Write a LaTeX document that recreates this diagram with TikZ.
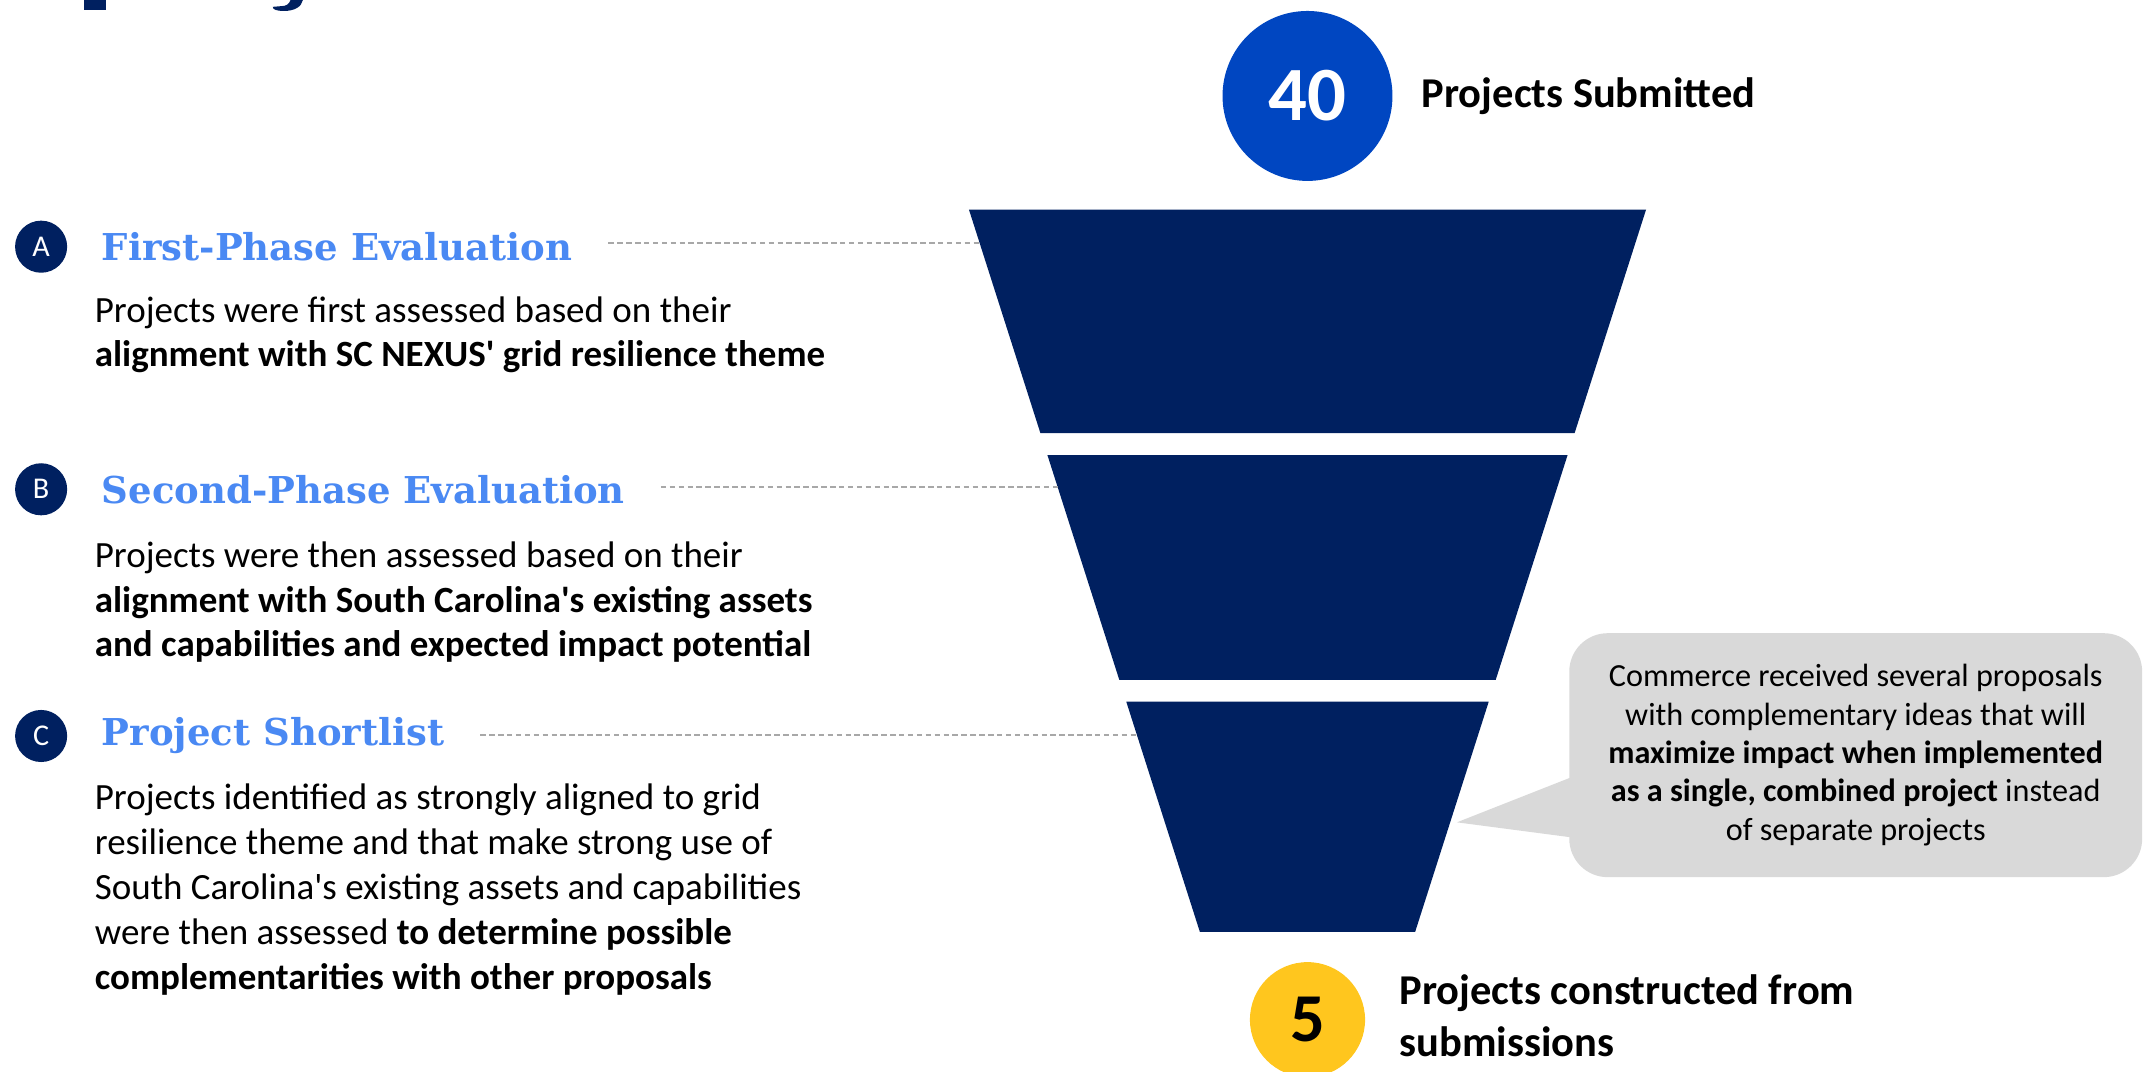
\documentclass[tikz,border=0pt]{standalone}
\usepackage{fontspec}
\setmainfont{Carlito}
\newfontfamily\headfont{DejaVu Serif}
\usetikzlibrary{positioning}
\definecolor{navy}{HTML}{002060}
\definecolor{royal}{HTML}{0046C1}
\definecolor{gold}{HTML}{FFC61E}
\definecolor{headblue}{HTML}{4A89F3}
\definecolor{leadgrey}{HTML}{A8A8A8}
\definecolor{notegrey}{HTML}{D9D9D9}
\tikzset{
  letter/.style={circle,fill=navy,text=white,minimum size=38pt,inner sep=0,font=\fontsize{22}{22}\selectfont},
  phase/.style={anchor=west,inner sep=0,text=headblue,font=\headfont\bfseries\fontsize{27}{27}\selectfont},
  body/.style={anchor=north west,inner sep=0,align=left,font=\fontsize{27}{32.7}\selectfont},
  leader/.style={draw=leadgrey,line width=1.5pt,dash pattern=on 4pt off 2.5pt},
  count/.style={circle,inner sep=0,font=\bfseries\fontsize{56}{56}\selectfont},
  result/.style={anchor=west,inner sep=0,align=left,font=\bfseries\fontsize{31}{38}\selectfont},
}
\begin{document}
\begin{tikzpicture}[x=1pt,y=-1pt]
\useasboundingbox (0,0) rectangle (1568,781.5);

% cut-off title
\fill[navy] (61,0) rectangle (77,7);
\fill[navy] (212,0) -- (221,0) .. controls (220,5) and (215,8) .. (207,8) .. controls (202,8) and (199,7) .. (199,5) -- (205,4.5) .. controls (209,4.5) and (211,3) .. (212,0) -- cycle;

% funnel
\foreach \ya/\yb in {153/316,332/496,512/680}{
  \pgfmathsetmacro\wa{247-0.3197*(\ya-153)}
  \pgfmathsetmacro\wb{247-0.3197*(\yb-153)}
  \fill[navy] (954-\wa,\ya) -- (954+\wa,\ya) -- (954+\wb,\yb) -- (954-\wb,\yb) -- cycle;
}
\coordinate (edgeA) at (715,177);
\coordinate (edgeB) at (774,355);
\coordinate (edgeC) at (831,536);

\node (count40) [count,fill=royal,text=white,minimum size=124pt] at (954,70) {40};
\node (submitted) [result,right=21pt of count40] {Projects Submitted};
\node (count5) [count,fill=gold,text=black,minimum size=84pt,font=\bfseries\fontsize{50}{50}\selectfont] at (954,744) {5};
\node (constructed) [result] at (1021,741) {Projects constructed from\\submissions};

% phases
\node (markA) [letter] at (30,180) {A};
\node (phaseA) [phase,right=25pt of markA] {First-Phase Evaluation};
\node (textA) [body] at (69,216) {Projects were first assessed based on their\\\textbf{alignment with SC NEXUS\textquotesingle{} grid resilience theme}};

\node (markB) [letter] at (30,357) {B};
\node (phaseB) [phase,right=25pt of markB] {Second-Phase Evaluation};
\node (textB) [body] at (69,395) {Projects were then assessed based on their\\\textbf{alignment with South Carolina\textquotesingle s existing assets}\\\textbf{and capabilities and expected impact potential}};

\node (markC) [letter] at (30,537) {C};
\node (phaseC) [phase,right=25pt of markC] {Project Shortlist};
\node (textC) [body] at (69,572) {Projects identified as strongly aligned to grid\\resilience theme and that make strong use of\\South Carolina\textquotesingle s existing assets and capabilities\\were then assessed \textbf{to determine possible}\\\textbf{complementarities with other proposals}};

\foreach \p in {A,B,C}{
  \coordinate (start\p) at ([xshift=26pt]phase\p.east);
  \draw[leader] (start\p |- edge\p) -- (edge\p);
}

% callout
\coordinate (tip) at (1063,600);
\node (note) [fill=notegrey,rounded corners=28pt,minimum width=418pt,minimum height=178pt,align=center,font=\fontsize{23.5}{28}\selectfont] at (1354,551) {Commerce received several proposals\\with complementary ideas that will\\\textbf{maximize impact when implemented}\\\textbf{as a single, combined project} instead\\of separate projects};
\fill[notegrey] ([xshift=2pt,yshift=-16pt]note.west) -- (tip) -- ([xshift=2pt,yshift=-60pt]note.west) -- cycle;
\end{tikzpicture}
\end{document}
